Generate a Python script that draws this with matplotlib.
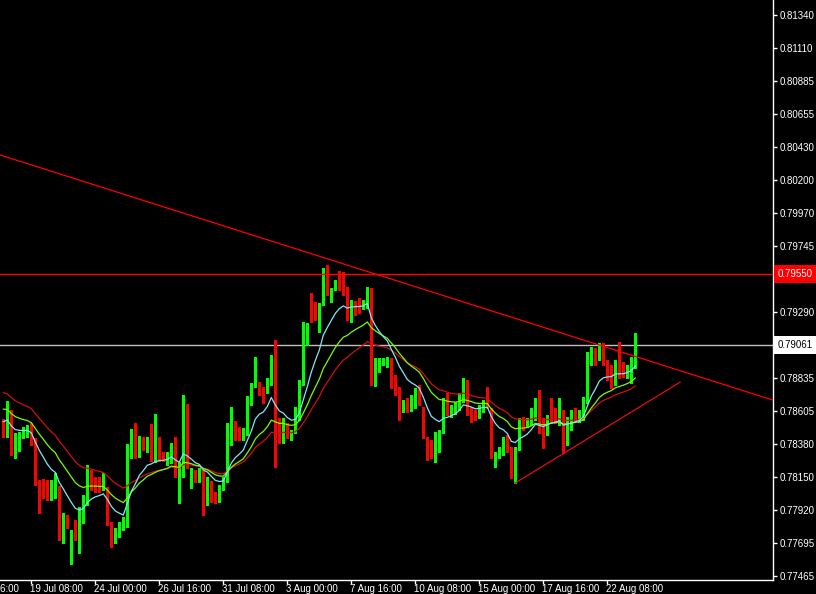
import numpy as np
import matplotlib.pyplot as plt
import matplotlib.transforms as mtransforms

# H4 candles (bar index = position)
opens = [0.78521, 0.78487, 0.78597, 0.78328, 0.78335, 0.78445, 0.78438, 0.78487, 0.78383, 0.78100,
         0.78100, 0.78080, 0.78024, 0.78038, 0.78087, 0.77796, 0.77872, 0.77554, 0.77768, 0.77747,
         0.77865, 0.77968, 0.78162, 0.78114, 0.78100, 0.78073, 0.78073, 0.77830, 0.77727, 0.77768,
         0.77803, 0.77830, 0.78307, 0.78425, 0.78307, 0.78418, 0.78342, 0.78459, 0.78280, 0.78321,
         0.78307, 0.78280, 0.78280, 0.78369, 0.78073, 0.78176, 0.78569, 0.78107, 0.78176, 0.78142,
         0.78176, 0.78024, 0.78121, 0.78038, 0.78003, 0.78073, 0.78128, 0.78452, 0.78521, 0.78459,
         0.78425, 0.78452, 0.78680, 0.78798, 0.78798, 0.78763, 0.78735, 0.78798, 0.78978, 0.78556,
         0.78425, 0.78494, 0.78425, 0.78459, 0.78556, 0.78798, 0.79081, 0.79385, 0.79337, 0.79316,
         0.79337, 0.79592, 0.79426, 0.79454, 0.79509, 0.79475, 0.79454, 0.79247, 0.79357, 0.79357,
         0.79323, 0.79337, 0.79426, 0.78798, 0.78888, 0.78936, 0.78922, 0.78957, 0.78819, 0.78749,
         0.78625, 0.78659, 0.78611, 0.78645, 0.78763, 0.78625, 0.78418, 0.78390, 0.78300, 0.78335,
         0.78459, 0.78659, 0.78590, 0.78597, 0.78625, 0.78680, 0.78805, 0.78625, 0.78597, 0.78562,
         0.78611, 0.78659, 0.78611, 0.78252, 0.78287, 0.78335, 0.78418, 0.78349, 0.78149, 0.78349,
         0.78528, 0.78507, 0.78521, 0.78562, 0.78680, 0.78528, 0.78452, 0.78625, 0.78597, 0.78521,
         0.78576, 0.78383, 0.78528, 0.78611, 0.78542, 0.78556, 0.78666, 0.78957, 0.79012, 0.78971,
         0.79060, 0.78943, 0.78908, 0.78839, 0.78922, 0.78888, 0.78867, 0.78867, 0.78908]
highs = [0.78549, 0.78673, 0.78611, 0.78452, 0.78459, 0.78494, 0.78507, 0.78521, 0.78418, 0.78128,
         0.78135, 0.78128, 0.78128, 0.78176, 0.78087, 0.77899, 0.77886, 0.77782, 0.77851, 0.77941,
         0.78024, 0.78231, 0.78197, 0.78149, 0.78149, 0.78176, 0.78080, 0.77837, 0.77796, 0.77837,
         0.77872, 0.78376, 0.78480, 0.78521, 0.78432, 0.78425, 0.78425, 0.78514, 0.78583, 0.78425,
         0.78321, 0.78321, 0.78383, 0.78425, 0.78252, 0.78714, 0.78652, 0.78211, 0.78197, 0.78211,
         0.78197, 0.78149, 0.78121, 0.78045, 0.78093, 0.78149, 0.78521, 0.78632, 0.78535, 0.78494,
         0.78487, 0.78707, 0.78798, 0.78978, 0.78805, 0.78770, 0.78832, 0.78991, 0.79095, 0.78556,
         0.78556, 0.78521, 0.78473, 0.78632, 0.78819, 0.79219, 0.79212, 0.79419, 0.79357, 0.79350,
         0.79592, 0.79613, 0.79454, 0.79509, 0.79571, 0.79564, 0.79461, 0.79371, 0.79364, 0.79385,
         0.79371, 0.79461, 0.79454, 0.78971, 0.78971, 0.78971, 0.78978, 0.78971, 0.78853, 0.78770,
         0.78680, 0.78694, 0.78714, 0.78763, 0.78784, 0.78632, 0.78425, 0.78404, 0.78459, 0.78473,
         0.78694, 0.78728, 0.78645, 0.78666, 0.78728, 0.78832, 0.78819, 0.78632, 0.78611, 0.78645,
         0.78680, 0.78770, 0.78625, 0.78321, 0.78356, 0.78425, 0.78438, 0.78356, 0.78356, 0.78556,
         0.78562, 0.78556, 0.78625, 0.78694, 0.78749, 0.78556, 0.78576, 0.78694, 0.78625, 0.78694,
         0.78611, 0.78562, 0.78611, 0.78625, 0.78611, 0.78701, 0.79012, 0.79047, 0.79040, 0.79074,
         0.79074, 0.78957, 0.78922, 0.78957, 0.79081, 0.78943, 0.78922, 0.78978, 0.79143]
lows = [0.78425, 0.78425, 0.78300, 0.78280, 0.78328, 0.78418, 0.78425, 0.78369, 0.78093, 0.77899,
        0.78003, 0.77989, 0.77989, 0.78003, 0.77713, 0.77692, 0.77796, 0.77547, 0.77713, 0.77623,
        0.77830, 0.77954, 0.78059, 0.78045, 0.78045, 0.78059, 0.77816, 0.77665, 0.77692, 0.77734,
        0.77782, 0.77803, 0.78280, 0.78280, 0.78287, 0.78335, 0.78321, 0.78259, 0.78252, 0.78259,
        0.78259, 0.78231, 0.78245, 0.78149, 0.77968, 0.78149, 0.78211, 0.78073, 0.78114, 0.78114,
        0.77886, 0.77954, 0.77975, 0.77968, 0.77975, 0.78059, 0.78114, 0.78369, 0.78404, 0.78404,
        0.78404, 0.78438, 0.78645, 0.78770, 0.78714, 0.78659, 0.78728, 0.78784, 0.78218, 0.78383,
        0.78383, 0.78418, 0.78404, 0.78452, 0.78542, 0.78784, 0.79060, 0.79219, 0.79233, 0.79150,
        0.79337, 0.79406, 0.79357, 0.79440, 0.79440, 0.79406, 0.79233, 0.79219, 0.79268, 0.79281,
        0.79309, 0.79316, 0.78784, 0.78777, 0.78874, 0.78922, 0.78908, 0.78763, 0.78714, 0.78542,
        0.78597, 0.78597, 0.78604, 0.78625, 0.78645, 0.78418, 0.78266, 0.78280, 0.78252, 0.78321,
        0.78452, 0.78576, 0.78562, 0.78583, 0.78611, 0.78666, 0.78576, 0.78528, 0.78542, 0.78556,
        0.78597, 0.78625, 0.78280, 0.78218, 0.78280, 0.78300, 0.78321, 0.78142, 0.78107, 0.78335,
        0.78473, 0.78494, 0.78507, 0.78542, 0.78452, 0.78349, 0.78438, 0.78528, 0.78521, 0.78507,
        0.78314, 0.78369, 0.78473, 0.78542, 0.78528, 0.78542, 0.78659, 0.78922, 0.78922, 0.78957,
        0.78922, 0.78819, 0.78763, 0.78784, 0.78832, 0.78839, 0.78832, 0.78798, 0.78901]
closes = [0.78480, 0.78597, 0.78321, 0.78356, 0.78452, 0.78459, 0.78480, 0.78376, 0.78107, 0.78073,
          0.78073, 0.78024, 0.78038, 0.78087, 0.77796, 0.77872, 0.77803, 0.77768, 0.77747, 0.77872,
          0.77968, 0.78162, 0.78107, 0.78080, 0.78059, 0.78087, 0.77830, 0.77727, 0.77768, 0.77830,
          0.77830, 0.78314, 0.78432, 0.78335, 0.78425, 0.78342, 0.78397, 0.78280, 0.78321, 0.78300,
          0.78273, 0.78294, 0.78369, 0.78176, 0.78176, 0.78569, 0.78231, 0.78176, 0.78135, 0.78183,
          0.78024, 0.78121, 0.78017, 0.78003, 0.78080, 0.78142, 0.78459, 0.78521, 0.78452, 0.78418,
          0.78459, 0.78694, 0.78763, 0.78922, 0.78735, 0.78666, 0.78805, 0.78978, 0.78418, 0.78418,
          0.78521, 0.78425, 0.78459, 0.78562, 0.78798, 0.79095, 0.79177, 0.79323, 0.79316, 0.79350,
          0.79592, 0.79420, 0.79454, 0.79495, 0.79454, 0.79420, 0.79247, 0.79357, 0.79337, 0.79330,
          0.79350, 0.79426, 0.78805, 0.78957, 0.78957, 0.78964, 0.78957, 0.78770, 0.78735, 0.78632,
          0.78666, 0.78611, 0.78701, 0.78714, 0.78659, 0.78425, 0.78300, 0.78300, 0.78452, 0.78459,
          0.78659, 0.78590, 0.78625, 0.78645, 0.78714, 0.78819, 0.78611, 0.78597, 0.78562, 0.78632,
          0.78666, 0.78632, 0.78287, 0.78300, 0.78349, 0.78418, 0.78335, 0.78149, 0.78349, 0.78528,
          0.78494, 0.78528, 0.78611, 0.78680, 0.78473, 0.78459, 0.78562, 0.78576, 0.78562, 0.78576,
          0.78369, 0.78542, 0.78556, 0.78576, 0.78576, 0.78680, 0.78971, 0.79012, 0.78978, 0.79060,
          0.78936, 0.78867, 0.78853, 0.78943, 0.78867, 0.78867, 0.78902, 0.78943, 0.79061]

# moving averages: (period, value just before first visible bar, colour)
ma_specs = [(30, 0.78749, '#d01010'), (20, 0.78632, '#7cfc00'), (10, 0.78542, '#80e8f8')]

# drawn objects
resistance = 0.79550
bid = 0.79061
down_line = ([-0.8, 192.4], [0.80373, 0.78680])
up_line = ([127.9, 169.2], [0.78106, 0.78804])

xtick_idx = [-9, 7, 23, 39, 55, 71, 87, 103, 119, 135, 151]
xtick_labels = ['14 Jul 16:00', '19 Jul 08:00', '24 Jul 00:00', '26 Jul 16:00', '31 Jul 08:00',
                '3 Aug 00:00', '7 Aug 16:00', '10 Aug 08:00', '15 Aug 00:00', '17 Aug 16:00',
                '22 Aug 08:00']
# 0.79065 sits under the bid box, so it is left blank
ytick_labels = ['0.81340', '0.81110', '0.80885', '0.80655', '0.80430', '0.80200', '0.79970',
                '0.79745', '0.79515', '0.79290', '', '0.78835', '0.78605', '0.78380',
                '0.78150', '0.77920', '0.77695', '0.77465']


def ema(vals, period, seed):
    a = 2.0 / (period + 1)
    out, e = [], seed
    for v in vals:
        e = e + a * (v - e)
        out.append(e)
    return out


o, h, l, c = map(np.array, (opens, highs, lows, closes))
x = np.arange(len(c))
up = c >= o
cols = np.where(up, '#00ff00', '#ff0000')

fig = plt.figure(figsize=(8.16, 5.94), dpi=100, facecolor='black')
ax = fig.add_axes([0, 14 / 594, 773 / 816, 580 / 594], facecolor='black')

ax.vlines(x, l, h, colors=cols, lw=1.0, antialiased=False, zorder=2)
body = np.maximum(np.abs(c - o), 0.00007)
ax.bar(x, body, bottom=np.minimum(o, c), width=0.6, color=cols, lw=0,
       antialiased=False, zorder=3)

for period, seed, col in ma_specs:
    ax.plot(x, ema(closes, period, seed), color=col, lw=0.9, zorder=4)

ax.axhline(resistance, color='#ff0000', lw=1.0, zorder=5)
ax.axhline(bid, color='#c0c0c0', lw=1.0, zorder=1)
ax.plot(*down_line, color='#ff0000', lw=0.9, zorder=5)
ax.plot(*up_line, color='#e01010', lw=0.9, zorder=5)

for s in ['left', 'top']:
    ax.spines[s].set_visible(False)
for s in ['right', 'bottom']:
    ax.spines[s].set_color('white')
    ax.spines[s].set_linewidth(1.0)

ax.set_xticks(xtick_idx)
ax.set_xticklabels([])
ax.tick_params(axis='x', colors='white', length=3, width=1)

ax.yaxis.tick_right()
ax.set_yticks(np.linspace(0.81340, 0.77465, len(ytick_labels)))
ax.set_yticklabels(ytick_labels, family='Liberation Sans', fontsize=7)
ax.tick_params(axis='y', colors='white', length=3, width=1, pad=2)

# limits last, so the ticks do not widen them
ax.set_xlim(-0.825, 192.425)
ax.set_ylim(0.774374, 0.814436)

trans = mtransforms.blended_transform_factory(ax.transData, ax.transAxes)
for xi, lab in zip(xtick_idx, xtick_labels):
    ax.text(xi - 0.2, -0.0155, lab, transform=trans, ha='left', va='center', color='white',
            fontsize=7, family='Liberation Sans', clip_on=False)

ytr = mtransforms.blended_transform_factory(ax.transAxes, ax.transData)
ax.text(1.006, resistance, '0.79550', transform=ytr, ha='left', va='center', color='white',
        fontsize=7, family='Liberation Sans', clip_on=False, zorder=10,
        bbox=dict(boxstyle='square,pad=0.4', fc='#ff0000', ec='none'))
ax.text(1.006, bid, '0.79061', transform=ytr, ha='left', va='center', color='black',
        fontsize=7, family='Liberation Sans', clip_on=False, zorder=10,
        bbox=dict(boxstyle='square,pad=0.4', fc='white', ec='none'))

fig.savefig('out.png', dpi=100, facecolor='black')
